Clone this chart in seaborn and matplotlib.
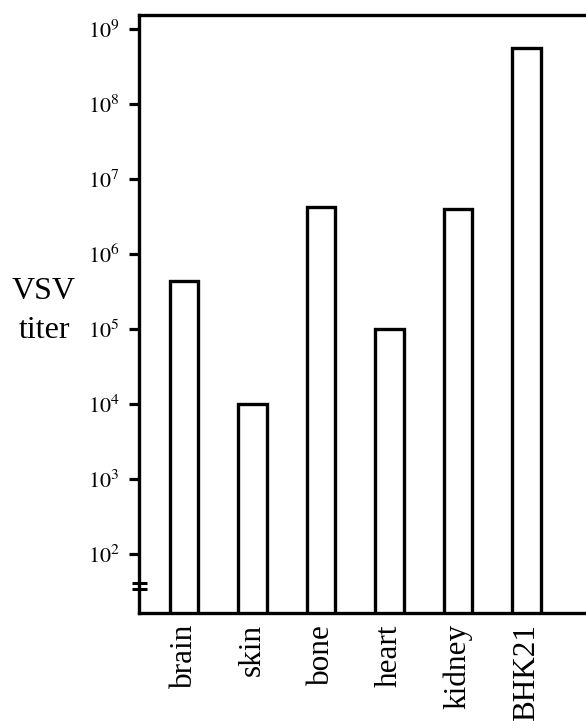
import matplotlib
matplotlib.use("Agg")
import matplotlib.pyplot as plt
import matplotlib.ticker as mticker
import pandas as pd
import seaborn as sns

# data
tissues = ["brain", "skin", "bone", "heart", "kidney", "BHK21"]
titers = [4.4e5, 1.0e4, 4.2e6, 1.0e5, 4.0e6, 5.5e8]
decades = [2, 3, 4, 5, 6, 7, 8, 9]

sns.set_theme(style="white")
plt.rcParams["font.family"] = ["Liberation Serif", "DejaVu Serif"]
plt.rcParams["mathtext.fontset"] = "stix"

df = pd.DataFrame({"tissue": tissues, "titer": titers})

fig = plt.figure(figsize=(5.86, 7.21), dpi=100)
ax = fig.add_axes([139 / 586, 1 - 613 / 721, 1 - 139 / 586, (613 - 15) / 721])

ax.set_yscale("log")
sns.barplot(data=df, x="tissue", y="titer", ax=ax, color="white",
            edgecolor="black", linewidth=2.4, width=0.41, saturation=1)

ax.set_ylim(10 ** 1.213, 10 ** 9.187)
ax.set_xlim(-0.657, 5.869)

ax.yaxis.set_major_locator(mticker.FixedLocator([10.0 ** d for d in decades]))
ax.yaxis.set_major_formatter(mticker.FixedFormatter([f"$10^{{{d}}}$" for d in decades]))
ax.yaxis.set_minor_locator(mticker.NullLocator())
ax.tick_params(axis="y", which="major", direction="out", length=7, width=2.3,
               pad=7, labelsize=16, colors="black", left=True)
ax.tick_params(axis="x", length=0, pad=8, labelsize=22.5, labelrotation=90,
               colors="black")
for lab in ax.get_xticklabels():
    lab.set_va("top")
    lab.set_ha("center")

for side in ["left", "top", "bottom"]:
    ax.spines[side].set_linewidth(2.4)
    ax.spines[side].set_color("black")
ax.spines["right"].set_visible(False)

ax.set_xlabel("")
ax.set_ylabel("VSV\ntiter", rotation=0, fontsize=23, ha="center", va="center",
              linespacing=1.45, color="black")
ax.yaxis.set_label_coords(-0.2125, 0.505)

# axis break mark on the left spine
for yb in [(613 - 583) / 598, (613 - 589) / 598]:
    ax.plot([-0.016, 0.018], [yb, yb], transform=ax.transAxes, color="black",
            linewidth=2.2, clip_on=False, solid_capstyle="butt")

fig.savefig("out.png", dpi=100)
